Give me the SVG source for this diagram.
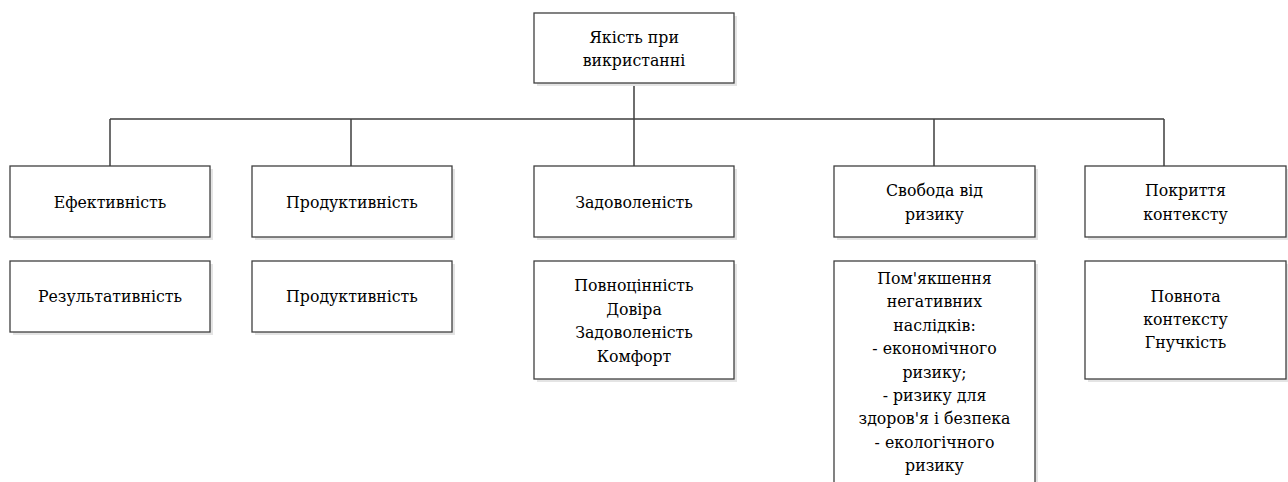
<svg xmlns="http://www.w3.org/2000/svg" width="1288" height="482" viewBox="0 0 1288 482">
<style>
.sh{fill:#e4e4e4}
.bx{fill:#ffffff;stroke:#3f3f3f;stroke-width:1.3}
.c{fill:none;stroke:#3f3f3f;stroke-width:1.5}
</style>
<rect width="1288" height="482" fill="#ffffff"/>
<g id="connectors">
<path class="c" d="M634 83V119M110 119H1164M110 119V166M351 119V166M634 119V166M934 119V166M1164 119V166"/>
</g>
<g font-family="DejaVu Serif Condensed, DejaVu Serif, serif" font-size="17.5" text-anchor="middle" fill="#000">
<g id="root">
<rect class="sh" x="537" y="16" width="200" height="70"/>
<rect class="bx" x="534" y="13" width="200" height="70"/>
<text x="634" y="43">Якість при</text>
<text x="634" y="66">викристанні</text>
</g>
<g id="n1">
<rect class="sh" x="13" y="169" width="200" height="71"/>
<rect class="bx" x="10" y="166" width="200" height="71"/>
<text x="110" y="208">Ефективність</text>
</g>
<g id="n2">
<rect class="sh" x="255" y="169" width="200" height="71"/>
<rect class="bx" x="252" y="166" width="200" height="71"/>
<text x="352" y="208">Продуктивність</text>
</g>
<g id="n3">
<rect class="sh" x="537" y="169" width="200" height="71"/>
<rect class="bx" x="534" y="166" width="200" height="71"/>
<text x="634" y="208">Задоволеність</text>
</g>
<g id="n4">
<rect class="sh" x="837" y="169" width="201" height="71"/>
<rect class="bx" x="834" y="166" width="201" height="71"/>
<text x="934.5" y="196">Свобода від</text>
<text x="934.5" y="220">ризику</text>
</g>
<g id="n5">
<rect class="sh" x="1088" y="169" width="201" height="71"/>
<rect class="bx" x="1085" y="166" width="201" height="71"/>
<text x="1185.5" y="196">Покриття</text>
<text x="1185.5" y="220">контексту</text>
</g>
<g id="d1">
<rect class="sh" x="13" y="264" width="200" height="71"/>
<rect class="bx" x="10" y="261" width="200" height="71"/>
<text x="110" y="302">Результативність</text>
</g>
<g id="d2">
<rect class="sh" x="255" y="264" width="200" height="71"/>
<rect class="bx" x="252" y="261" width="200" height="71"/>
<text x="352" y="302">Продуктивність</text>
</g>
<g id="d3">
<rect class="sh" x="537" y="264" width="200" height="118"/>
<rect class="bx" x="534" y="261" width="200" height="118"/>
<text x="634" y="291">Повноцінність</text>
<text x="634" y="314.5">Довіра</text>
<text x="634" y="338">Задоволеність</text>
<text x="634" y="361.5">Комфорт</text>
</g>
<g id="d4">
<rect class="sh" x="837" y="264" width="201" height="240"/>
<rect class="bx" x="834" y="261" width="201" height="240"/>
<text x="934.5" y="284">Пом'якшення</text>
<text x="934.5" y="307.4">негативних</text>
<text x="934.5" y="330.8">наслідків:</text>
<text x="934.5" y="354.2">- економічного</text>
<text x="934.5" y="377.6">ризику;</text>
<text x="934.5" y="401">- ризику для</text>
<text x="934.5" y="424.4">здоров'я і безпека</text>
<text x="934.5" y="447.8">- екологічного</text>
<text x="934.5" y="471.2">ризику</text>
</g>
<g id="d5">
<rect class="sh" x="1088" y="264" width="201" height="118"/>
<rect class="bx" x="1085" y="261" width="201" height="118"/>
<text x="1185.5" y="302">Повнота</text>
<text x="1185.5" y="325">контексту</text>
<text x="1185.5" y="348">Гнучкість</text>
</g>
</g>
</svg>
